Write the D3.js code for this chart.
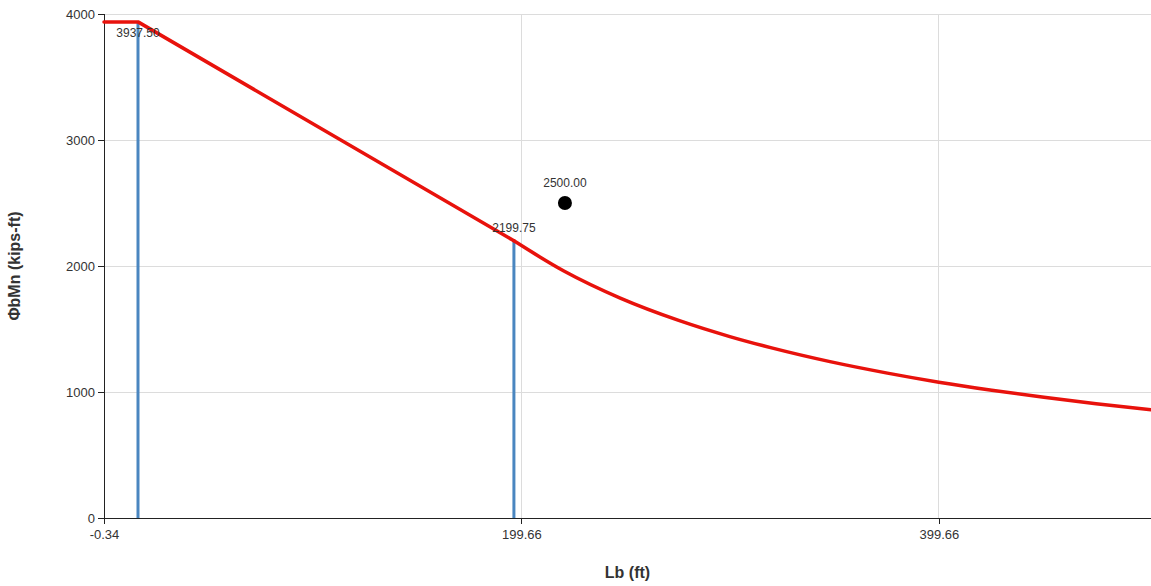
<!DOCTYPE html>
<html><head><meta charset="utf-8">
<script src="https://cdn.jsdelivr.net/npm/d3@7"></script>
<style>
body{margin:0;background:#fff;}
svg{display:block;font-family:"Liberation Sans",Arial,sans-serif;}
</style></head>
<body><svg id="c" width="1151" height="586"></svg>
<script>
// Data
const xTicks = [-0.34, 199.66, 399.66];
const yTicks = [0, 1000, 2000, 3000, 4000];
const xDomain = [-0.34, 501.3];
const yDomain = [0, 4000];
// plastic + inelastic zone (straight segments)
const inelasticLb = [-0.34, 15.95, 196.06];
const inelasticMn = [3937.5, 3937.5, 2199.75];
// elastic LTB zone (smooth curve)
const elasticLb = [196.06, 220, 247, 275, 299.5, 320, 347.5, 375, 399.66, 425, 450, 475, 501.3];
const elasticMn = [2199.75, 1960, 1745, 1568, 1440, 1348, 1241, 1150, 1078, 1014, 958, 907, 860];
const limitLb = [15.95, 196.06];
const limitMn = [3937.5, 2199.75];
const pointLb = [220.5];
const pointMn = [2500.0];
const xTitle = "Lb (ft)";
const yTitle = "ΦbMn (kips-ft)";

const svg = d3.select("#c");
const L = 104, R = 1151, T = 14, B = 518;
const x = d3.scaleLinear().domain(xDomain).range([L, R]);
const y = d3.scaleLinear().domain(yDomain).range([B, T]);
const f2 = v => d3.format(".2f")(v).replace("−", "-");

// grid
svg.append("g").selectAll("line").data(yTicks.filter(d => d > 0)).join("line")
  .attr("x1", L).attr("x2", R).attr("y1", d => y(d)).attr("y2", d => y(d))
  .attr("stroke", "#dcdcdc").attr("stroke-width", 1).attr("shape-rendering", "crispEdges");
svg.append("g").selectAll("line").data(xTicks.slice(1)).join("line")
  .attr("x1", d => x(d)).attr("x2", d => x(d)).attr("y1", T).attr("y2", B)
  .attr("stroke", "#dcdcdc").attr("stroke-width", 1).attr("shape-rendering", "crispEdges");

// axes
const xAxis = d3.axisBottom(x).tickValues(xTicks).tickFormat(f2).tickSizeOuter(0).tickSize(6);
const gx = svg.append("g").attr("transform", `translate(0,${B})`).call(xAxis);
const yAxis = d3.axisLeft(y).tickValues(yTicks).tickFormat(d3.format("d")).tickSizeOuter(0).tickSize(6);
const gy = svg.append("g").attr("transform", `translate(${L},0)`).call(yAxis);
[gx, gy].forEach(g => {
  g.selectAll(".domain").attr("stroke", "#222").attr("shape-rendering", "crispEdges");
  g.selectAll(".tick line").attr("stroke", "#222").attr("shape-rendering", "crispEdges");
  g.selectAll("text").attr("fill", "#333").style("font-size", "13px");
});
gx.selectAll("text").attr("dy", "0.95em");

// axis titles
svg.append("text").attr("x", (L + R) / 2).attr("y", 578).attr("text-anchor", "middle")
  .style("font-size", "16px").style("font-weight", "bold").attr("fill", "#333").text(xTitle);
svg.append("text").attr("transform", `translate(20,${(T + B) / 2}) rotate(-90)`).attr("text-anchor", "middle")
  .style("font-size", "16px").style("font-weight", "bold").attr("fill", "#333").text(yTitle);

// limit verticals
const lim = limitLb.map((d, i) => ({lb: d, mn: limitMn[i]}));
svg.append("g").selectAll("line").data(lim).join("line")
  .attr("x1", d => x(d.lb)).attr("x2", d => x(d.lb)).attr("y1", d => y(d.mn)).attr("y2", B)
  .attr("stroke", "#4a86c0").attr("stroke-width", 3);

// curve
const inPts = inelasticLb.map((d, i) => [d, inelasticMn[i]]);
const elPts = elasticLb.map((d, i) => [d, elasticMn[i]]);
const straight = d3.line().x(d => x(d[0])).y(d => y(d[1]));
const smooth = d3.line().x(d => x(d[0])).y(d => y(d[1])).curve(d3.curveMonotoneX);
[[inPts, straight], [elPts, smooth]].forEach(([p, g]) => {
  svg.append("path").datum(p).attr("d", g)
    .attr("fill", "none").attr("stroke", "#e8120c").attr("stroke-width", 3.5)
    .attr("stroke-linejoin", "round").attr("stroke-linecap", "round");
});

// limit labels
svg.append("g").selectAll("text").data(lim).join("text")
  .attr("x", d => x(d.lb)).attr("y", d => { const py = y(d.mn); return py - 12 < T ? py + 15 : py - 9; })
  .attr("text-anchor", "middle").style("font-size", "12px").attr("fill", "#333")
  .text(d => f2(d.mn));

// point
const pd = pointLb.map((d, i) => ({lb: d, mn: pointMn[i]}));
svg.append("g").selectAll("circle").data(pd).join("circle")
  .attr("cx", d => x(d.lb)).attr("cy", d => y(d.mn)).attr("r", 7).attr("fill", "#000");
svg.append("g").selectAll("text").data(pd).join("text")
  .attr("x", d => x(d.lb)).attr("y", d => y(d.mn) - 16)
  .attr("text-anchor", "middle").style("font-size", "12px").attr("fill", "#333")
  .text(d => f2(d.mn));
</script></body></html>
